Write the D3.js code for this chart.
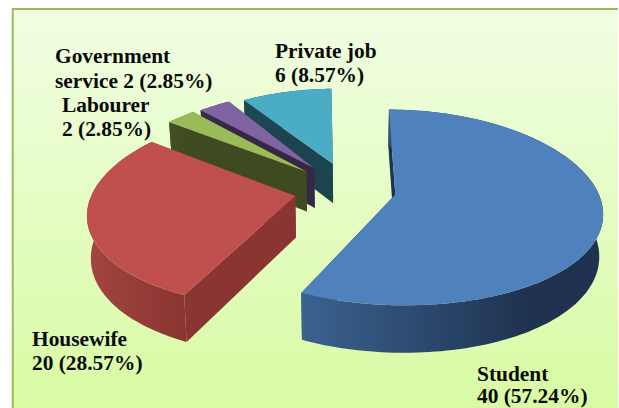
<!DOCTYPE html>
<html><head><meta charset="utf-8">
<script src="https://cdn.jsdelivr.net/npm/d3@7"></script>
<style>html,body{margin:0;padding:0;background:#fff}svg{display:block}
text{font-family:"Liberation Serif",serif;font-weight:bold;font-size:21.4px;fill:#0a0a0a}</style>
</head><body><div id="chart"></div>
<script>
const categories = ["Student","Housewife","Labourer","Government service","Private job"];
const values = [40,20,2,2,6];
const percents = ["57.24%","28.57%","2.85%","2.85%","8.57%"];
const labelLines = [
  ["Student","40 (57.24%)"],
  ["Housewife","20 (28.57%)"],
  ["Labourer","2 (2.85%)"],
  ["Government","service 2 (2.85%)"],
  ["Private job","6 (8.57%)"]
];
const W=619,H=408;
const topCol=["#4f81bd","#c0504d","#9bbb59","#8064a2","#4bacc6"];
const sideLight=["#3b6290","#a34440","#454f24","#3a2c4c","#1e4854"];
const sideDark=["#1f3350","#8a3532","#3f4a20","#352846","#1c444f"];
const labelPos=[[477,381],[32,346],[62,112],[55,63],[275,58]];
const labelDy=[22,24,24,25,24];
const explode=[0.252,0.252,0.3,0.3,0.3];
const shiftX=[0,0,5,5,5];
const radiusScale=[1,1,0.98,0.97,0.95];
const startNudge=[2,1.5,0,-0.5,-1];
const endNudge=[1.6,0.5,0,0.5,0.5];

const cx=345,cy=190,R=202,kR=95,persp=0.13,perspX=0.16,depth=41,bottomScale=0.985;
const rot=-1.8*Math.PI/180, deg=Math.PI/180;

const svg=d3.select("#chart").append("svg").attr("width",W).attr("height",H);
const defs=svg.append("defs");
const bg=defs.append("linearGradient").attr("id","bg").attr("x1",0).attr("y1",0).attr("x2",0).attr("y2",1);
bg.append("stop").attr("offset",0).attr("stop-color","#f1fee3");
bg.append("stop").attr("offset",1).attr("stop-color","#d8fba2");
svg.append("rect").attr("x",12).attr("y",9).attr("width",W-13).attr("height",H).attr("fill","url(#bg)");
svg.append("path").attr("d","M12.75,"+H+"V9H"+(W-1)).attr("fill","none").attr("stroke","#9bbb59").attr("stroke-width",2);

const arcs=d3.pie().sort(null).startAngle(rot).endAngle(rot+2*Math.PI)(values);

function project(u,v,z,i){
  const s=1/(1-persp*v), sx=1/(1-perspX*v);
  const b=z?bottomScale:1;
  return [cx+R*u*sx*b+shiftX[i], cy+kR*v*s+(z?depth*s:0)];
}
const line=d3.line();
function slicePts(a,i){
  const mid=(a.startAngle+a.endAngle)/2, e=explode[i];
  const ox=Math.sin(mid)*e, oy=-Math.cos(mid)*e;
  const a0=a.startAngle+startNudge[i]*deg, a1=a.endAngle+endNudge[i]*deg, r=radiusScale[i];
  const n=Math.max(8,Math.round((a1-a0)*40));
  const ang=d3.range(n+1).map(j=>a0+(a1-a0)*j/n);
  const rim=ang.map(t=>[ox+r*Math.sin(t),oy-r*Math.cos(t)]);
  return {apex:[ox,oy],rim,ang};
}
const order=[4,3,2,1,0];
order.forEach(i=>{
  const a=arcs[i], p=slicePts(a,i);
  const gid="side"+i;
  const topRim=p.rim.map(q=>project(q[0],q[1],false,i));
  const botRim=p.rim.map(q=>project(q[0],q[1],true,i));
  const ap=project(p.apex[0],p.apex[1],false,i), apB=project(p.apex[0],p.apex[1],true,i);
  const g=svg.append("g");
  [[topRim[0],botRim[0]],[topRim[topRim.length-1],botRim[botRim.length-1]]].forEach(w=>{
    g.append("path").attr("d",line([ap,w[0],w[1],apB])+"Z").attr("fill",sideDark[i]);
  });
  const visible=topRim.filter((q,j)=>Math.cos(p.ang[j])<0);
  const ext=d3.extent(visible.length?visible:topRim,q=>q[0]);
  const gr=defs.append("linearGradient").attr("id",gid).attr("gradientUnits","userSpaceOnUse")
    .attr("x1",ext[0]).attr("x2",ext[1]).attr("y1",0).attr("y2",0);
  gr.append("stop").attr("offset",0).attr("stop-color",sideLight[i]);
  gr.append("stop").attr("offset",i===0?0.75:1).attr("stop-color",sideDark[i]);
  g.append("path").attr("d",line(topRim.concat(botRim.slice().reverse()))+"Z").attr("fill","url(#"+gid+")");
  g.append("path").attr("d",line([ap].concat(topRim))+"Z").attr("fill",topCol[i]);
});
labelLines.forEach((ls,i)=>{
  const t=svg.append("text").attr("x",labelPos[i][0]).attr("y",labelPos[i][1]);
  ls.forEach((s,j)=>t.append("tspan").attr("x",labelPos[i][0]).attr("dy",j?labelDy[i]:0).text(s));
});
</script></body></html>
